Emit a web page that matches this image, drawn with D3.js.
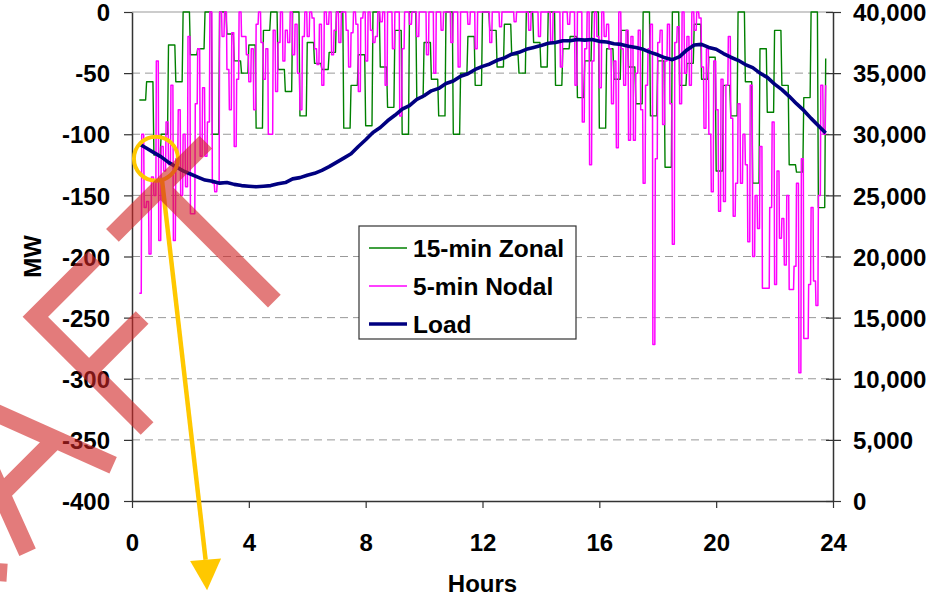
<html>
<head>
<meta charset="utf-8" />
<style>
  html, body { margin: 0; background: #fff; }
  #chart svg { display: block; }
</style>
</head>
<body>
<div id="chart"></div>
<script src="https://cdnjs.cloudflare.com/ajax/libs/d3/7.8.5/d3.min.js"></script>
<script>

var W = 943, H = 598;
var FONT = "'Liberation Sans', Arial, sans-serif";

var seriesNames = ["15-min Zonal", "5-min Nodal", "Load"];
var seriesColors = ["#008000", "#ff00ff", "#000080"];

var hourTicks = [0, 4, 8, 12, 16, 20, 24];
var mwTicks = [-400, -350, -300, -250, -200, -150, -100, -50, 0];
var loadTicks = [0, 5000, 10000, 15000, 20000, 25000, 30000, 35000, 40000];

// first sample is at 0:15, zonal + load every 15 min, nodal every 5 min
var startHour = 0.25;
var zonalStep = 0.25;
var nodalStep = 1 / 12;

var zonalMW = [
  -72, -57, -117,
  -100, -27, -57, 0,
  -35, -30, 0, -100,
  0, -18, -40, -50,
  -27, -95, -15, 0,
  -47, -65, 0, -85,
  -25, -42, -47, -33,
  0, -95, -60, -35,
  -93, 0, -45, -78,
  -15, -100, 0, -70,
  -25, -55, -85, 0,
  -100, -50, -20, -60,
  0, -15, -45, -10,
  -35, -50, 0, -25,
  -45, 0, -60, -30,
  -20, -70, -40, 0,
  -95, -30, -55, -15,
  -45, -75, 0, -85,
  -40, -127, 0, -60,
  -42, -10, -55, -37,
  -130, -60, -85, 0,
  -57, -140, -30, -82,
  -15, -60, -125, -131,
  -70, 0, -160, -38
];

var nodalMW = [
  -230, -100, -160, -155, -198, -135, -150, -40, -187,
  -110, -130, -90, -125, -60, -187, -120, -80, -150, -100, -143, -20,
  -165, -165, -75, -30, -118, -62, -118, -90, 0, -140, -147, -140,
  0, -20, 0, -47, -80, -17, -110, -55, 0, -20, -20, -35,
  -57, -30, -80, -10, 0, -25, -55, -30, -100, -100, -15, -65,
  -25, 0, -40, -15, -25, 0, -35, -10, -50, -80, -20, 0,
  -20, 0, -5, -30, -43, -10, -60, 0, -10, 0, -35, -15,
  0, -25, 0, 0, -15, -45, -17, 0, -10, -65, -5, 0,
  -40, 0, -15, -25, -20, 0, -8, 0, -60, 0, 0, -30,
  0, 0, -85, -30, 0, 0, -10, 0, 0, -20, 0, 0,
  0, -35, 0, 0, -50, 0, 0, -15, 0, 0, 0, -25,
  0, 0, -45, 0, 0, 0, -10, 0, 0, -30, 0, 0,
  0, 0, 0, -25, 0, 0, 0, -12, 0, 0, 0, 0,
  0, -8, 0, 0, 0, 0, 0, -15, 0, 0, 0, -20,
  0, 0, 0, 0, -25, 0, 0, 0, -45, 0, 0, -10,
  0, 0, -60, 0, 0, -90, -30, 0, -125, -40, 0, -20,
  -62, 0, -20, -10, -30, -75, -40, -111, 0, -30, -60, -15,
  -105, -20, -105, -50, -15, -80, -140, -60, -30, -10, -272, -120,
  -25, -15, -92, -40, -10, -75, -190, -25, -12, -75, 0, -50,
  -20, -60, 0, -15, 0, -5, -45, -95, -30, -100, -147, -40,
  -80, -163, -55, -155, -60, -20, -87, -167, -140, -75, -140, -100,
  -125, -188, -60, -200, -150, -177, -110, -226, -226, -226, -160, -90,
  -223, -130, -185, -169, -207, -150, -227, -227, -208, -140, -295, -120,
  -267, -267, -223, -160, -220, -240, -150, -60, -100, -60
];

var loadMW = [
  29200, 28850, 28500,
  28150, 27700, 27350, 27000,
  26750, 26500, 26250, 26150,
  26000, 26050, 25900, 25800,
  25750, 25700, 25750, 25800,
  25950, 26050, 26350, 26450,
  26650, 26800, 27050, 27350,
  27700, 28050, 28400, 29000,
  29550, 30150, 30550, 31100,
  31550, 32050, 32350, 32850,
  33150, 33550, 33750, 34150,
  34350, 34750, 34950, 35300,
  35550, 35750, 36050, 36250,
  36550, 36700, 36950, 37100,
  37250, 37450, 37500, 37650,
  37650, 37750, 37700, 37750,
  37600, 37550, 37400, 37350,
  37200, 37100, 36950, 36700,
  36500, 36250, 36100, 36350,
  36900, 37300, 37350, 37100,
  36950, 36600, 36300, 36050,
  35700, 35450, 35000, 34650,
  34100, 33650, 33100, 32500,
  31950, 31300, 30700, 30100
];

// markup drawn over the chart: orange ring + arrow (hours, MW), red stamp
var ringAt = [0.82, -120];
var arrowFrom = [1.03, -138];
var arrowTip = [2.57, -473];
var arrowBase = [[1.99, -449], [3.05, -447]];
var stampStrokes = [
  "M-700,249 L-700,410 L-640,410 Q-590,410 -590,330 Q-590,249 -640,249 Z",
  "M-520,410 L-520,249 L-460,249 Q-425,249 -425,290 Q-425,330 -460,330 L-520,330 M-470,330 L-400,410",
  "M-371,410 L-310,249 L-249,409 M-348,350 L-272,350",
  "M-115,249 L-199,249 L-199,407 M-199,325 L-124,325",
  "M-87,246 L45,246 M-19,246 L-19,407"
];

var svg = d3.select("#chart").append("svg")
    .attr("width", W).attr("height", H)
    .attr("font-family", FONT).attr("font-weight", "bold");

var x = d3.scaleLinear().domain([0, 24]).range([132, 833]);
var y = d3.scaleLinear().domain([-400, 0]).range([501, 12]);
var y2 = d3.scaleLinear().domain([0, 40000]).range([501, 12]);

// grid
svg.append("g").selectAll("line")
    .data(mwTicks.filter(function(d) { return d > -400 && d < 0; }))
    .enter().append("line")
    .attr("x1", x(0)).attr("x2", x(24))
    .attr("y1", function(d) { return y(d); }).attr("y2", function(d) { return y(d); })
    .attr("stroke", "#999").attr("stroke-width", 1)
    .attr("stroke-dasharray", "8,5");
svg.append("line")
    .attr("x1", x(0)).attr("x2", x(24)).attr("y1", y(0)).attr("y2", y(0))
    .attr("stroke", "#999").attr("stroke-width", 1.2);

// values hold for most of the interval, then move to the next one
function heldPoints(vals, step, hold) {
  var pts = [];
  vals.forEach(function(v, i) {
    var t = startHour + i * step;
    pts.push([t, v]);
    if (i < vals.length - 1) pts.push([t + hold, v]);
  });
  return pts;
}

var line = d3.line()
    .x(function(d) { return x(d[0]); })
    .y(function(d) { return y(d[1]); });

svg.append("path")
    .datum(heldPoints(zonalMW, zonalStep, 13 / 60))
    .attr("d", line)
    .attr("fill", "none").attr("stroke", seriesColors[0]).attr("stroke-width", 1.4)
    .attr("stroke-linejoin", "round");

svg.append("path")
    .datum(heldPoints(nodalMW, nodalStep, 4 / 60))
    .attr("d", line)
    .attr("fill", "none").attr("stroke", seriesColors[1]).attr("stroke-width", 1.5)
    .attr("stroke-linejoin", "round");

var loadLine = d3.line()
    .x(function(d, i) { return x(startHour + i * zonalStep); })
    .y(function(d) { return y2(d); });

svg.append("path")
    .datum(loadMW)
    .attr("d", loadLine)
    .attr("fill", "none").attr("stroke", seriesColors[2]).attr("stroke-width", 3.6)
    .attr("stroke-linejoin", "round");

// axes
function styleAxis(g) {
  g.attr("font-family", FONT).attr("font-size", 24).attr("font-weight", "bold");
  g.select(".domain").attr("stroke", "#333").attr("stroke-width", 1.5);
  g.selectAll(".tick line").attr("stroke", "#333").attr("stroke-width", 1.2);
  g.selectAll(".tick text").attr("fill", "#000");
}

var gLeft = svg.append("g")
    .attr("transform", "translate(" + x(0) + ",0)")
    .call(d3.axisLeft(y).tickValues(mwTicks).tickSize(8).tickSizeOuter(0).tickPadding(14)
      .tickFormat(function(d) { return String(d); }));
styleAxis(gLeft);
gLeft.selectAll(".tick text").attr("dy", "0.36em");

var gRight = svg.append("g")
    .attr("transform", "translate(" + x(24) + ",0)")
    .call(d3.axisRight(y2).tickValues(loadTicks).tickSize(8).tickSizeOuter(0).tickPadding(12)
      .tickFormat(d3.format(",")));
styleAxis(gRight);
gRight.selectAll(".tick line").attr("x1", -7);
gRight.selectAll(".tick text").attr("dy", "0.36em");

var gBottom = svg.append("g")
    .attr("transform", "translate(0," + y(-400) + ")")
    .call(d3.axisBottom(x).tickValues(hourTicks).tickSize(7).tickSizeOuter(0));
styleAxis(gBottom);
gBottom.selectAll(".tick text").attr("y", 50).attr("dy", null);

svg.append("text")
    .attr("transform", "translate(41," + ((y(0) + y(-400)) / 2) + ") rotate(-90)")
    .attr("text-anchor", "middle").attr("font-size", 24)
    .text("MW");

svg.append("text")
    .attr("x", (x(0) + x(24)) / 2).attr("y", 592)
    .attr("text-anchor", "middle").attr("font-size", 24)
    .text("Hours");

// legend
var legend = svg.append("g").attr("transform", "translate(359,226)");
legend.append("rect")
    .attr("width", 217).attr("height", 113)
    .attr("fill", "#fff").attr("stroke", "#333").attr("stroke-width", 1.2);
var item = legend.selectAll("g.item")
    .data(seriesNames)
    .enter().append("g")
    .attr("class", "item")
    .attr("transform", function(d, i) { return "translate(0," + (22 + i * 38) + ")"; });
item.append("line")
    .attr("x1", 10).attr("x2", 48)
    .attr("stroke", function(d, i) { return seriesColors[i]; })
    .attr("stroke-width", function(d, i) { return i == 2 ? 3.6 : 1.6; });
item.append("text")
    .attr("x", 54).attr("dy", "0.36em").attr("font-size", 24.5)
    .text(function(d) { return d; });

// orange markup
var gold = "#ffc800";
svg.append("circle")
    .attr("cx", x(ringAt[0])).attr("cy", y(ringAt[1])).attr("r", 22)
    .attr("fill", "none").attr("stroke", gold).attr("stroke-width", 4);
var baseMid = [(arrowBase[0][0] + arrowBase[1][0]) / 2, (arrowBase[0][1] + arrowBase[1][1]) / 2];
svg.append("line")
    .attr("x1", x(arrowFrom[0])).attr("y1", y(arrowFrom[1]))
    .attr("x2", x(baseMid[0])).attr("y2", y(baseMid[1]))
    .attr("stroke", gold).attr("stroke-width", 4.5);
svg.append("path")
    .attr("d", d3.line()([
      [x(arrowBase[0][0]), y(arrowBase[0][1])],
      [x(arrowTip[0]), y(arrowTip[1])],
      [x(arrowBase[1][0]), y(arrowBase[1][1])]
    ]) + "Z")
    .attr("fill", gold);

// red stamp on top, semi transparent
var stamp = svg.append("g")
    .attr("transform", "rotate(-45)")
    .attr("opacity", 0.6);
stamp.selectAll("path")
    .data(stampStrokes)
    .enter().append("path")
    .attr("d", function(d) { return d; })
    .attr("fill", "none").attr("stroke", "rgb(210,37,37)").attr("stroke-width", 18)
    .attr("stroke-linejoin", "miter").attr("stroke-linecap", "butt");

</script>
</body>
</html>
